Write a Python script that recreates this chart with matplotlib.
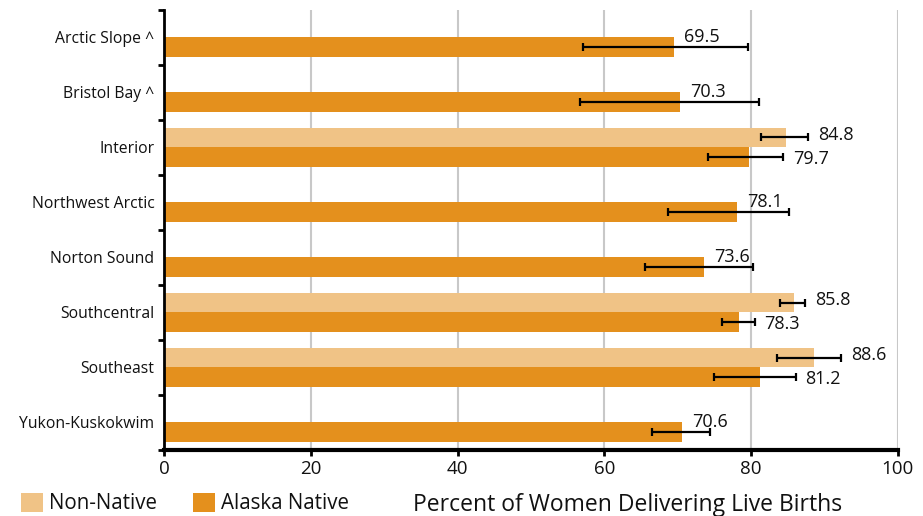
import numpy as np
import matplotlib.pyplot as plt
from matplotlib.patches import Patch
from matplotlib.ticker import MultipleLocator

plt.rcParams['font.family'] = ['Open Sans', 'DejaVu Sans']

regions = ['Arctic Slope ^', 'Bristol Bay ^', 'Interior', 'Northwest Arctic',
           'Norton Sound', 'Southcentral', 'Southeast', 'Yukon-Kuskokwim']
non_native = [np.nan, np.nan, 84.8, np.nan, np.nan, 85.8, 88.6, np.nan]
non_native_lo = [np.nan, np.nan, 81.4, np.nan, np.nan, 84.0, 83.5, np.nan]
non_native_hi = [np.nan, np.nan, 87.8, np.nan, np.nan, 87.4, 92.3, np.nan]
alaska_native = [69.5, 70.3, 79.7, 78.1, 73.6, 78.3, 81.2, 70.6]
alaska_native_lo = [57.1, 56.7, 74.2, 68.7, 65.5, 76.0, 75.0, 66.5]
alaska_native_hi = [79.6, 81.1, 84.4, 85.2, 80.3, 80.5, 86.1, 74.4]

NN_COLOR = '#F0C386'
AN_COLOR = '#E4901D'
TXT = '#111111'

fig = plt.figure(figsize=(9.23, 5.16), dpi=100)
ax = fig.add_axes([0.1777, 0.128, 0.795, 0.853])

y = np.arange(len(regions))
h = 0.36
nn = np.array(non_native)
an = np.array(alaska_native)

ax.barh(y - h / 2, nn, height=h, color=NN_COLOR, zorder=2)
ax.barh(y + h / 2, an, height=h, color=AN_COLOR, zorder=2)

nn_err = [nn - np.array(non_native_lo), np.array(non_native_hi) - nn]
an_err = [an - np.array(alaska_native_lo), np.array(alaska_native_hi) - an]
ax.errorbar(nn, y - h / 2, xerr=nn_err, fmt='none', ecolor='black',
            elinewidth=1.6, capsize=3, capthick=1.6, zorder=3)
ax.errorbar(an, y + h / 2, xerr=an_err, fmt='none', ecolor='black',
            elinewidth=1.6, capsize=3, capthick=1.6, zorder=3)

for i in range(len(regions)):
    if np.isnan(nn[i]):
        ax.text(an[i] + 1.4, y[i], f'{an[i]:.1f}', va='center', ha='left',
                fontsize=13, color=TXT, zorder=4)
    else:
        ax.text(non_native_hi[i] + 1.3, y[i] - h / 2 - 0.05, f'{nn[i]:.1f}',
                va='center', ha='left', fontsize=13, color=TXT, zorder=4)
        ax.text(alaska_native_hi[i] + 1.3, y[i] + h / 2 + 0.03, f'{an[i]:.1f}',
                va='center', ha='left', fontsize=13, color=TXT, zorder=4)

ax.set_xlim(0, 100)
ax.set_ylim(len(regions) - 0.5, -0.5)
ax.set_xticks(np.arange(0, 101, 20))
ax.tick_params(axis='x', labelsize=13.5, length=4, width=2, pad=3, labelcolor=TXT)
ax.set_yticks(y)
ax.set_yticklabels(regions, fontsize=11.3, color=TXT)
ax.tick_params(axis='y', which='major', length=0, pad=7)
ax.yaxis.set_minor_locator(MultipleLocator(1, offset=0.5))
ax.tick_params(axis='y', which='minor', length=4, width=2)

ax.grid(axis='x', color='#c8c8c8', linewidth=1.5, zorder=0)
ax.set_axisbelow(True)
for s in ['top', 'right']:
    ax.spines[s].set_visible(False)
ax.spines['left'].set_linewidth(2)
ax.spines['bottom'].set_linewidth(3)

handles = [Patch(facecolor=NN_COLOR, label='Non-Native'),
           Patch(facecolor=AN_COLOR, label='Alaska Native')]
fig.legend(handles=handles, loc='center left', bbox_to_anchor=(0.012, 0.024),
           ncol=2, frameon=False, fontsize=14.8, handlelength=1.05, handleheight=1.05,
           handletextpad=0.3, columnspacing=1.75, borderpad=0, labelcolor=TXT)
fig.text(0.68, 0.022, 'Percent of Women Delivering Live Births',
         ha='center', va='center', fontsize=16.5, color=TXT)

fig.savefig('out.png', dpi=100)
